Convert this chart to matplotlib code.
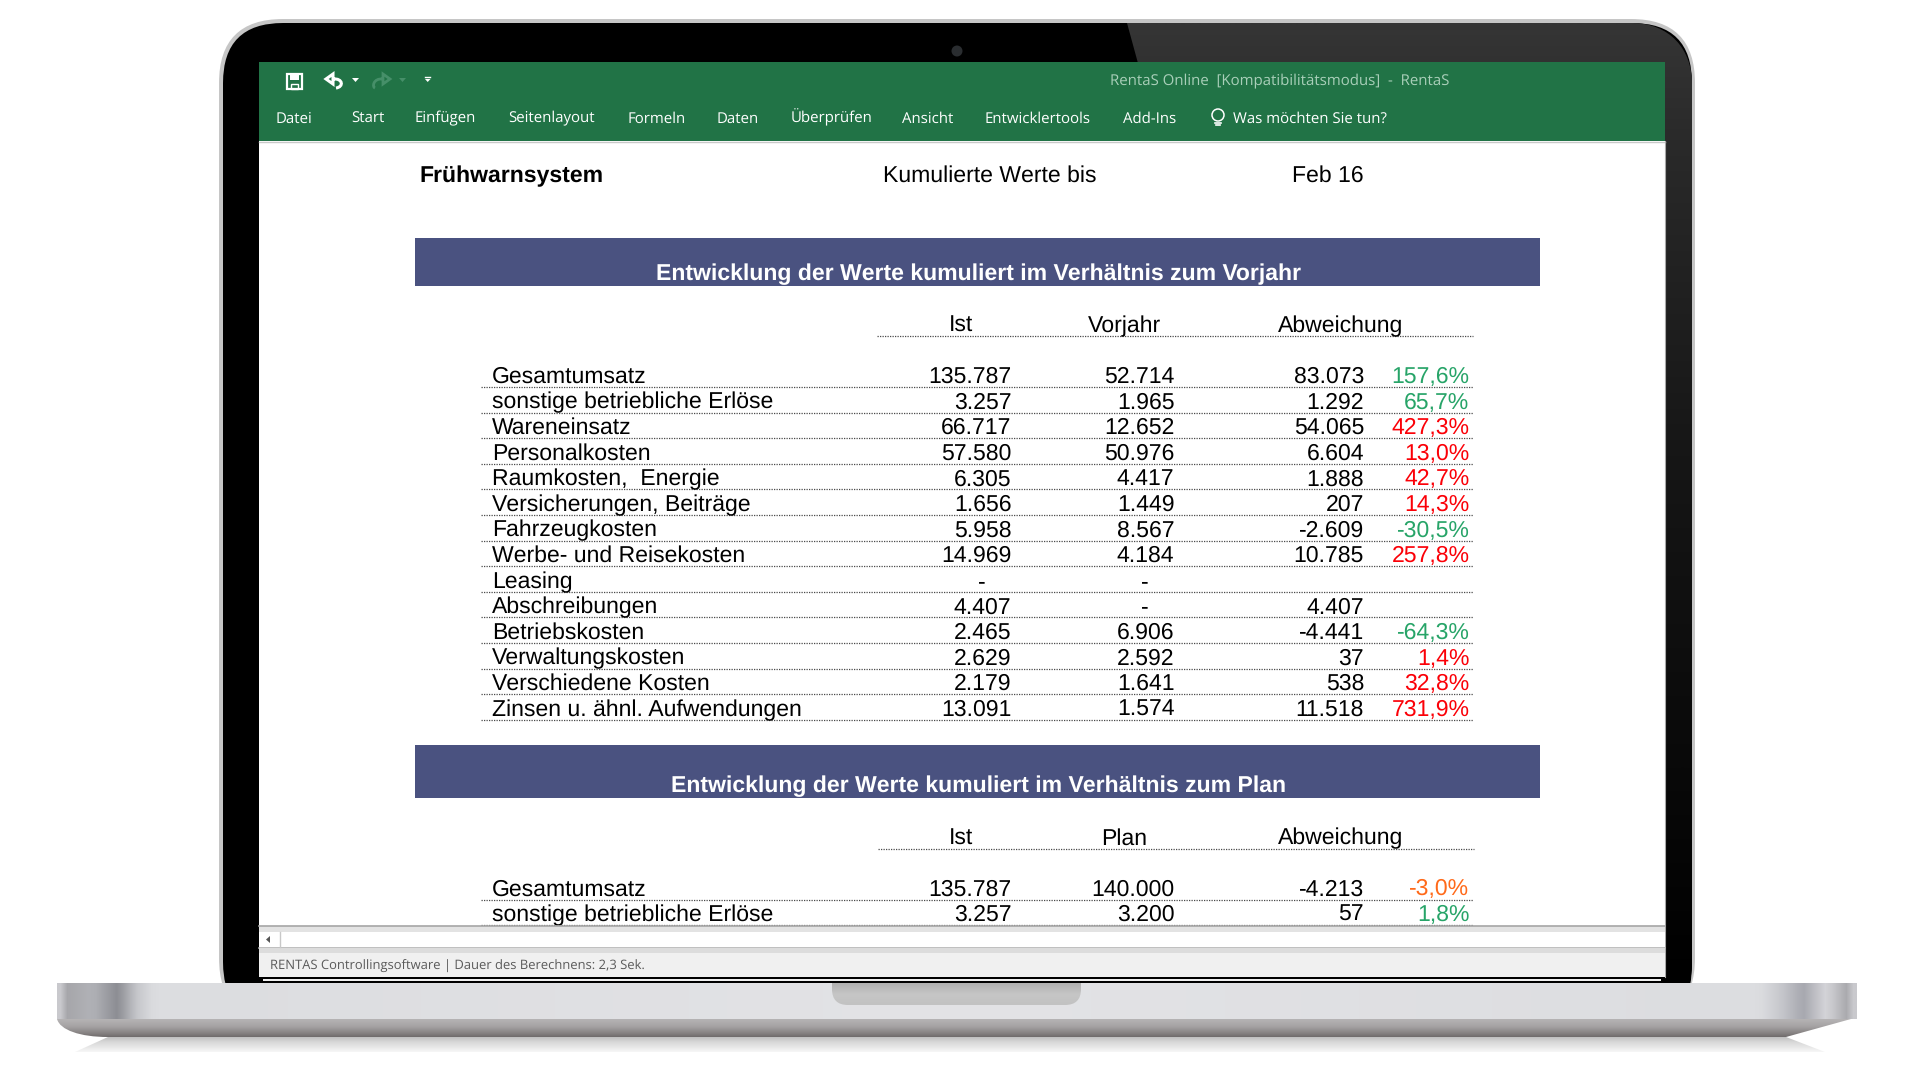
import numpy as np
import matplotlib
matplotlib.use("Agg")
import matplotlib.pyplot as plt
from matplotlib.patches import Rectangle, FancyBboxPatch, Polygon, Circle, PathPatch
from matplotlib.path import Path
from matplotlib.colors import to_rgb

plt.rcParams["text.hinting"] = "no_hinting"
plt.rcParams["text.hinting_factor"] = 1

# table data
labels_top = ["Gesamtumsatz", "sonstige betriebliche Erlöse", "Wareneinsatz", "Personalkosten",
              "Raumkosten,  Energie", "Versicherungen, Beiträge", "Fahrzeugkosten",
              "Werbe- und Reisekosten", "Leasing", "Abschreibungen", "Betriebskosten",
              "Verwaltungskosten", "Verschiedene Kosten", "Zinsen u. ähnl. Aufwendungen"]
ist_top = ["135.787", "3.257", "66.717", "57.580", "6.305", "1.656", "5.958", "14.969", "-",
           "4.407", "2.465", "2.629", "2.179", "13.091"]
vorjahr_top = ["52.714", "1.965", "12.652", "50.976", "4.417", "1.449", "8.567", "4.184", "-",
               "-", "6.906", "2.592", "1.641", "1.574"]
abw_top = ["83.073", "1.292", "54.065", "6.604", "1.888", "207", "-2.609", "10.785", "",
           "4.407", "-4.441", "37", "538", "11.518"]
pct_top = ["157,6%", "65,7%", "427,3%", "13,0%", "42,7%", "14,3%", "-30,5%", "257,8%", "",
           "", "-64,3%", "1,4%", "32,8%", "731,9%"]
state_top = ["g", "g", "r", "r", "r", "r", "g", "r", "", "", "g", "r", "r", "r"]

labels_bottom = ["Gesamtumsatz", "sonstige betriebliche Erlöse"]
ist_bottom = ["135.787", "3.257"]
plan_bottom = ["140.000", "3.200"]
abw_bottom = ["-4.213", "57"]
pct_bottom = ["-3,0%", "1,8%"]
state_bottom = ["o", "g"]

ribbon_tabs = ["Datei", "Start", "Einfügen", "Seitenlayout", "Formeln", "Daten", "Überprüfen",
               "Ansicht", "Entwicklertools", "Add-Ins", "Was möchten Sie tun?"]
ribbon_x = [276, 351, 415, 508, 628, 717, 791, 902, 985, 1123, 1233]

PCT_COLORS = {"g": "#27a468", "r": "#fb0007", "o": "#ff6a1a", "": "black"}
SHEET_FONT = ["Liberation Sans", "DejaVu Sans"]
UI_FONT = ["Open Sans", "DejaVu Sans"]
FS = 16.5


def gradient(ax, box, stops, vertical=True, zorder=1):
    """Draw a colour ramp into box (x0, x1, y0, y1)"""
    pos = [s[0] for s in stops]
    cols = np.array([to_rgb(s[1]) for s in stops])
    t = np.linspace(0, 1, 256)
    ramp = np.stack([np.interp(t, pos, cols[:, i]) for i in range(3)], axis=-1)
    img = ramp[:, None, :] if vertical else ramp[None, :, :]
    x0, x1, y0, y1 = box
    return ax.imshow(img, extent=(x0, x1, y1, y0), aspect="auto", zorder=zorder, interpolation="bilinear")


def rrect(x0, y0, x1, y1, r, **kw):
    return FancyBboxPatch((x0 + r, y0 + r), x1 - x0 - 2 * r, y1 - y0 - 2 * r,
                          boxstyle=f"round,pad={r},rounding_size={r}", **kw)


def draw_laptop(ax):
    # bezel
    ax.add_patch(rrect(219, 19, 1695, 1022, 64, fc="#c6c6c6", ec="none", zorder=1))
    ax.add_patch(rrect(223, 23, 1692, 1022, 60, fc="black", ec="none", zorder=2))
    # lighter wedge on the right of the lid
    dark = PathPatch(Path([(1127, 23), (1632, 23), (1670, 23), (1692, 50), (1692, 83), (1692, 962),
                           (1692, 995), (1682, 1022), (1660, 1022), (1400, 1022), (1127, 23)],
                          [Path.MOVETO, Path.LINETO, Path.CURVE4, Path.CURVE4, Path.CURVE4, Path.LINETO,
                           Path.CURVE4, Path.CURVE4, Path.CURVE4, Path.LINETO, Path.CLOSEPOLY]),
                     fc="none", ec="none")
    ax.add_patch(dark)
    im = gradient(ax, (1120, 1700, 23, 985),
                  [(0, "#353535"), (0.12, "#2a2a2a"), (0.45, "#161616"), (0.85, "#060606"), (1, "#000000")], zorder=3)
    im.set_clip_path(dark)
    ax.add_patch(Circle((957, 51), 5.5, fc="#2a2d30", ec="none", zorder=4))

    # screen
    ax.add_patch(Rectangle((259, 62), 1406, 915, fc="white", ec="none", zorder=4))
    ax.add_patch(Rectangle((259, 62), 1406, 79, fc="#217346", ec="none", zorder=5))
    ax.plot([259, 1665], [141.5, 141.5], color="#c9c9c9", lw=1, zorder=5)
    ax.plot([1665, 1665], [141, 977], color="#a8a8a8", lw=0.8, zorder=5)

    # base
    gradient(ax, (57, 1857, 983, 1019),
             [(0, "#c9c9cd"), (0.004, "#a6a6aa"), (0.018, "#b2b3b8"), (0.032, "#8b8c92"), (0.042, "#c4c5c9"),
              (0.052, "#dcdde0"), (0.5, "#e3e3e6"), (0.948, "#dcdde0"), (0.96, "#c6c7cc"), (0.972, "#a6a7ae"),
              (0.985, "#d6d6da"), (0.996, "#aaaaae"), (1, "#c9c9cd")], vertical=False, zorder=6)
    # reflection below the lip
    refl = Polygon([(75, 1052), (108, 1037), (1786, 1037), (1825, 1052)], closed=True, fc="none", ec="none")
    ax.add_patch(refl)
    im = gradient(ax, (57, 1857, 1037, 1052), [(0, "#bfbfbf"), (0.3, "#d6d6d6"), (1, "#f7f7f7")], zorder=5.5)
    im.set_clip_path(refl)
    lip = PathPatch(Path([(57, 1019), (60, 1030), (80, 1037), (108, 1037), (1786, 1037), (1851, 1019), (57, 1019)],
                         [Path.MOVETO, Path.CURVE4, Path.CURVE4, Path.CURVE4, Path.LINETO, Path.LINETO, Path.CLOSEPOLY]),
                    fc="none", ec="none")
    ax.add_patch(lip)
    im = gradient(ax, (57, 1857, 1019, 1038),
                  [(0, "#b6b4b5"), (0.4, "#a5a2a3"), (0.8, "#807c7c"), (1, "#686464")], zorder=6)
    im.set_clip_path(lip)
    notch = rrect(832, 950, 1081, 1005, 16, fc="none", ec="none")
    ax.add_patch(notch)
    im = gradient(ax, (832, 1081, 983, 1005), [(0, "#b0b0b0"), (0.5, "#c6c6c6"), (1, "#c2c2c2")], zorder=7)
    im.set_clip_path(notch)


def draw_chrome(ax):
    # quick access icons
    ax.add_patch(Rectangle((287, 74), 15, 15, fc="none", ec="white", lw=1.6, zorder=8))
    ax.add_patch(Rectangle((290, 74), 9, 6, fc="white", ec="none", zorder=8))
    ax.add_patch(Rectangle((291, 84), 7, 5, fc="none", ec="white", lw=1, zorder=8))
    undo = Path([(326, 79), (333, 74), (333, 84), (326, 79), (333, 79), (343, 78), (344, 87), (336, 88)],
                [Path.MOVETO, Path.LINETO, Path.LINETO, Path.CLOSEPOLY, Path.MOVETO, Path.CURVE4, Path.CURVE4, Path.CURVE4])
    ax.add_patch(PathPatch(undo, fc="none", ec="white", lw=2.2, zorder=8))
    redo = Path([(390, 79), (383, 74), (383, 84), (390, 79), (383, 79), (373, 78), (372, 87), (375, 88)],
                [Path.MOVETO, Path.LINETO, Path.LINETO, Path.CLOSEPOLY, Path.MOVETO, Path.CURVE4, Path.CURVE4, Path.CURVE4])
    ax.add_patch(PathPatch(redo, fc="none", ec="#468f69", lw=2, zorder=8))
    ax.add_patch(Polygon([(352, 78), (359, 78), (355.5, 82)], fc="white", ec="none", zorder=8))
    ax.add_patch(Polygon([(399, 78), (406, 78), (402.5, 82)], fc="#468f69", ec="none", zorder=8))
    ax.plot([425, 430], [77, 77], color="white", lw=1, zorder=8)
    ax.add_patch(Polygon([(425, 79), (430.5, 79), (427.7, 82)], fc="white", ec="none", zorder=8))

    # Open Sans snaps to whole pixel sizes, so these two lines sit a bit short of the reference
    ax.text(1110, 84, "RentaS Online  [Kompatibilitätsmodus]  -  RentaS", fontsize=11.1, va="baseline",
            family=UI_FONT, color="#a9cfb9", zorder=8)
    for name, x in zip(ribbon_tabs, ribbon_x):
        ax.text(x, 122.5, name, fontsize=11.1, va="baseline", family=UI_FONT, color="white", zorder=8)
    # light bulb
    ax.add_patch(Circle((1218, 115), 6, fc="none", ec="white", lw=1.1, zorder=8))
    ax.plot([1215, 1221], [122.5, 122.5], color="white", lw=1.2, zorder=8)
    ax.plot([1216, 1220], [125, 125], color="white", lw=1.2, zorder=8)

    # scrollbar and status bar
    ax.add_patch(Rectangle((259, 926), 1406, 6, fc="#e3e3e3", ec="none", zorder=8))
    ax.plot([259, 1665], [926, 926], color="#a6a6a6", lw=1.2, zorder=8)
    ax.add_patch(Rectangle((259, 932), 1406, 15, fc="white", ec="none", zorder=8))
    ax.plot([259, 1665], [947.5, 947.5], color="#b4b4b4", lw=1.2, zorder=8)
    ax.add_patch(Rectangle((259, 948), 1406, 5, fc="#dcdcdc", ec="none", zorder=8))
    ax.add_patch(Rectangle((259, 953), 1406, 24, fc="#f0f0f0", ec="none", zorder=8))
    ax.plot([279.5, 279.5], [932, 947], color="#c8c8c8", lw=1, zorder=8)
    ax.add_patch(Polygon([(270, 936), (270, 943), (266, 939.5)], fc="#555555", ec="none", zorder=9))
    ax.text(270, 970, "RENTAS Controllingsoftware | Dauer des Berechnens: 2,3 Sek.", fontsize=9.5,
            va="baseline", family=UI_FONT, color="#5a5a5a", zorder=9)
    ax.add_patch(Rectangle((263, 979), 1398, 2, fc="#efefef", ec="none", zorder=4))


def cell(ax, x, y, text, ha="right", color="black", weight="normal", size=FS):
    ax.text(x, y, text, ha=ha, va="baseline", fontsize=size, color=color, fontweight=weight,
            family=SHEET_FONT, zorder=7)


def draw_table(ax, headers, hdr_y, hdr_line, hdr_x0, first_line, labels, col1, col2, col3, pct, state):
    hdr_x = [961, 1124, 1340.5]
    for h, x in zip(headers, hdr_x):
        cell(ax, x, hdr_y, h, ha="center")
    dot = dict(color="#4a4a4a", lw=0.9, linestyle=(0, (1, 1)), zorder=6)
    ax.plot([hdr_x0, hdr_x0 + 596], [hdr_line, hdr_line], **dot)
    for i, label in enumerate(labels):
        line_y = first_line + i * 25.6
        y = line_y - 4
        cell(ax, 492, y, label, ha="left")
        # excel shows a lone dash with padding on the right
        for x, val in zip((1011.5, 1174.5, 1364), (col1[i], col2[i], col3[i])):
            cell(ax, x - 26 if val == "-" else x, y, val)
        cell(ax, 1469.5, y, pct[i], color=PCT_COLORS[state[i]])
        ax.plot([481, 1473], [line_y, line_y], **dot)


def main():
    fig = plt.figure(figsize=(19.2, 10.8), dpi=100, facecolor="white")
    ax = fig.add_axes([0, 0, 1, 1])
    ax.axis("off")

    draw_laptop(ax)
    draw_chrome(ax)

    cell(ax, 419.5, 182, "Frühwarnsystem", ha="left", weight="bold", size=16.7)
    cell(ax, 883, 182, "Kumulierte Werte bis", ha="left")
    cell(ax, 1292, 182, "Feb 16", ha="left")

    ax.add_patch(Rectangle((415, 238), 1125, 48, fc="#4a5280", ec="none", zorder=6))
    cell(ax, 978.5, 280, "Entwicklung der Werte kumuliert im Verhältnis zum Vorjahr", ha="center",
         color="white", weight="bold", size=16.4)
    draw_table(ax, ["Ist", "Vorjahr", "Abweichung"], 332, 336, 877, 387,
               labels_top, ist_top, vorjahr_top, abw_top, pct_top, state_top)

    ax.add_patch(Rectangle((415, 745), 1125, 53, fc="#4a5280", ec="none", zorder=6))
    cell(ax, 978.5, 792, "Entwicklung der Werte kumuliert im Verhältnis zum Plan", ha="center",
         color="white", weight="bold", size=16.35)
    draw_table(ax, ["Ist", "Plan", "Abweichung"], 844.5, 848.5, 878, 899.5,
               labels_bottom, ist_bottom, plan_bottom, abw_bottom, pct_bottom, state_bottom)

    ax.set_xlim(0, 1920)
    ax.set_ylim(1080, 0)
    fig.savefig("out.png", dpi=100, facecolor="white")
    plt.close(fig)


if __name__ == "__main__":
    main()
